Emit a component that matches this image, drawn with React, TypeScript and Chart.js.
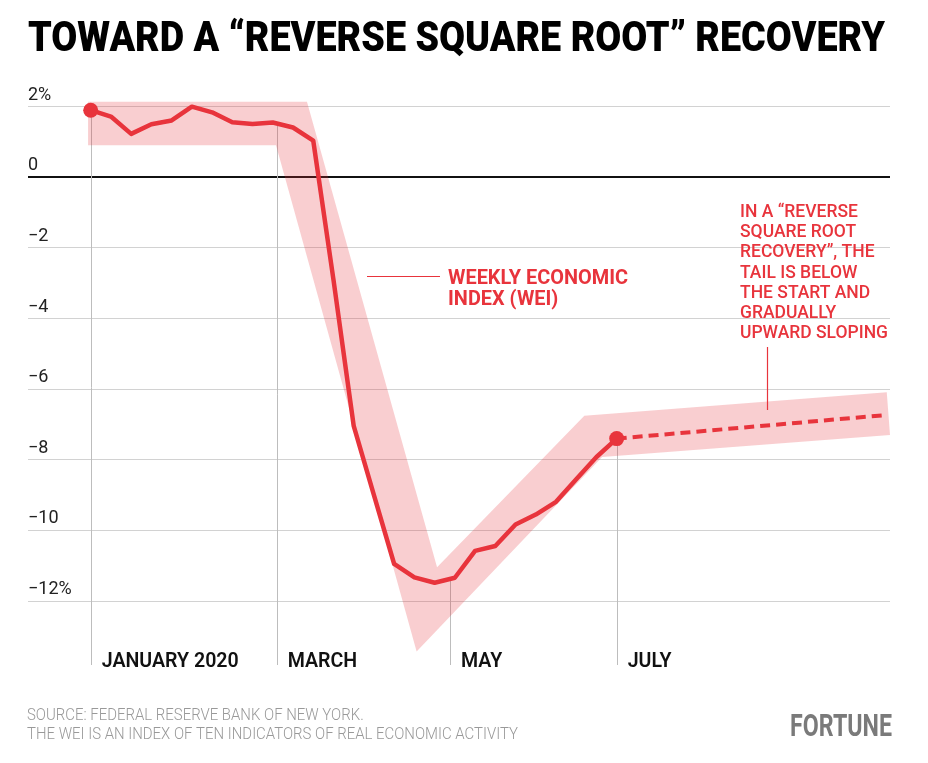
import React, { useEffect, useRef } from 'react';
import { Chart, registerables } from 'chart.js';

Chart.register(...registerables);

// ---- data ----
const weekIndex = [0, 1, 2, 3, 4, 5, 6, 7, 8, 9, 10, 11, 12, 13, 14, 15, 16, 17, 18, 19, 20, 21, 22, 23, 24, 25, 26];
const weiValues = [1.9, 1.72, 1.23, 1.5, 1.61, 2.0, 1.84, 1.56, 1.51, 1.55, 1.41, 1.04, -2.9, -7.04, -9.0, -10.95, -11.33, -11.48, -11.34, -10.58, -10.44, -9.83, -9.55, -9.19, -8.55, -7.92, -7.4];
const projectionX = [26, 39.35];
const projectionY = [-7.4, -6.73];
const bandX = [-0.13, 10.69, 17.12, 24.4, 39.35, 39.51, 25.28, 16.11, 9.16, -0.13];
const bandY = [2.14, 2.14, -11.04, -6.75, -6.09, -7.3, -7.92, -13.43, 0.91, 0.91];
const yTicks = [2, 0, -2, -4, -6, -8, -10, -12];
const yTickLabels = ['2%', '0', '\u22122', '\u22124', '\u22126', '\u22128', '\u221210', '\u221212%'];
const monthLabels = ['JANUARY 2020', 'MARCH', 'MAY', 'JULY'];
const monthPositions = [0, 9.19, 17.76, 26];
const titleText = 'TOWARD A \u201CREVERSE SQUARE ROOT\u201D RECOVERY';
const weiLabel = ['WEEKLY ECONOMIC', 'INDEX (WEI)'];
const noteLines = ['IN A \u201CREVERSE', 'SQUARE ROOT', 'RECOVERY\u201D, THE', 'TAIL IS BELOW', 'THE START AND', 'GRADUALLY', 'UPWARD SLOPING'];
const sourceLines = ['SOURCE: FEDERAL RESERVE BANK OF NEW YORK.', 'THE WEI IS AN INDEX OF TEN INDICATORS OF REAL ECONOMIC ACTIVITY'];
const brandText = 'FORTUNE';

// ---- styles ----
const RED = '#E8343C';
const BAND = 'rgba(232, 52, 60, 0.24)';
const GRID = '#d2d2d2';
const DROP = '#bdbdbd';

function seriesAt(p: number): number {
  for (let i = 0; i < weekIndex.length - 1; i++) {
    if (p >= weekIndex[i] && p <= weekIndex[i + 1]) {
      const t = (p - weekIndex[i]) / (weekIndex[i + 1] - weekIndex[i]);
      return weiValues[i] + t * (weiValues[i + 1] - weiValues[i]);
    }
  }
  return p < weekIndex[0] ? weiValues[0] : weiValues[weiValues.length - 1];
}

function fitScale(ctx: CanvasRenderingContext2D, text: string, font: string, width: number) {
  ctx.font = font;
  return width / ctx.measureText(text).width;
}

function drawText(ctx: CanvasRenderingContext2D, text: string, x: number, y: number, font: string, color: string, sx = 1) {
  ctx.save();
  ctx.font = font;
  ctx.fillStyle = color;
  ctx.textBaseline = 'alphabetic';
  ctx.textAlign = 'left';
  ctx.translate(x, y);
  ctx.scale(sx, 1);
  ctx.fillText(text, 0, 0);
  ctx.restore();
}

const decorPlugin = {
  id: 'decor',
  beforeDatasetsDraw(chart: any) {
    const { ctx, scales, chartArea } = chart;
    const xs = scales.x;
    const ys = scales.y;
    ctx.save();
    ctx.strokeStyle = DROP;
    ctx.lineWidth = 1;
    monthPositions.forEach((p) => {
      const px = Math.round(xs.getPixelForValue(p)) + 0.5;
      const py = ys.getPixelForValue(seriesAt(p));
      ctx.beginPath();
      ctx.moveTo(px, py);
      ctx.lineTo(px, chartArea.bottom);
      ctx.stroke();
    });
    ctx.fillStyle = BAND;
    ctx.beginPath();
    bandX.forEach((bx, i) => {
      const px = xs.getPixelForValue(bx);
      const py = ys.getPixelForValue(bandY[i]);
      if (i === 0) ctx.moveTo(px, py);
      else ctx.lineTo(px, py);
    });
    ctx.closePath();
    ctx.fill();
    ctx.restore();
  },
  afterDraw(chart: any) {
    const { ctx, scales } = chart;
    const xs = scales.x;
    const ys = scales.y;

    const tFont = '900 42px Roboto';
    drawText(ctx, titleText, 28, 51, tFont, '#000', fitScale(ctx, titleText, tFont, 857));

    yTicks.forEach((v, i) => {
      drawText(ctx, yTickLabels[i], 28, ys.getPixelForValue(v) - 7, '400 18px Roboto', '#222');
    });

    const mFont = '600 20px Roboto';
    const mScale = fitScale(ctx, monthLabels[0], mFont, 137);
    monthPositions.forEach((p, i) => {
      drawText(ctx, monthLabels[i], xs.getPixelForValue(p) + 11, 667, mFont, '#111', mScale);
    });

    const wFont = '700 21px Roboto';
    const wScale = fitScale(ctx, weiLabel[0], wFont, 180);
    drawText(ctx, weiLabel[0], 448, 283.5, wFont, RED, wScale);
    drawText(ctx, weiLabel[1], 448, 305, wFont, RED, wScale);
    ctx.save();
    ctx.strokeStyle = RED;
    ctx.lineWidth = 1.2;
    ctx.beginPath();
    ctx.moveTo(367, 276.5);
    ctx.lineTo(440, 276.5);
    ctx.stroke();
    ctx.restore();

    const nFont = '500 19px Roboto';
    const nScale = fitScale(ctx, noteLines[6], nFont, 148);
    noteLines.forEach((line, i) => {
      drawText(ctx, line, 740, 217 + i * 20.2, nFont, RED, nScale);
    });
    ctx.save();
    ctx.strokeStyle = RED;
    ctx.lineWidth = 1.2;
    ctx.beginPath();
    ctx.moveTo(767.5, 347);
    ctx.lineTo(767.5, 410);
    ctx.stroke();
    ctx.restore();

    const fFont = '300 17px Roboto';
    const fScale = fitScale(ctx, sourceLines[1], fFont, 491);
    drawText(ctx, sourceLines[0], 27, 720, fFont, '#999', fScale);
    drawText(ctx, sourceLines[1], 27, 739, fFont, '#999', fScale);

    const bFont = '700 31px Roboto';
    drawText(ctx, brandText, 790, 736, bFont, '#7a7a7a', fitScale(ctx, brandText, bFont, 102));
  },
};

export default function App() {
  const ref = useRef<HTMLCanvasElement | null>(null);
  useEffect(() => {
    if (!ref.current) return;
    const last = weekIndex.length - 1;
    const chart = new Chart(ref.current, {
      type: 'line',
      data: {
        datasets: [
          {
            data: weekIndex.map((x, i) => ({ x, y: weiValues[i] })),
            borderColor: RED,
            borderWidth: 4.5,
            borderJoinStyle: 'round',
            borderCapStyle: 'round',
            tension: 0,
            pointRadius: (c: any) => (c.dataIndex === 0 || c.dataIndex === last ? 7.5 : 0),
            pointBackgroundColor: RED,
            pointBorderWidth: 0,
            fill: false,
            clip: false,
          } as any,
          {
            data: projectionX.map((x, i) => ({ x, y: projectionY[i] })),
            borderColor: RED,
            borderWidth: 4,
            borderDash: [10, 6],
            pointRadius: 0,
            fill: false,
            clip: false,
          } as any,
        ],
      },
      options: {
        responsive: false,
        animation: false,
        events: [],
        layout: { padding: { left: 28, top: 101, right: 38, bottom: 98 } },
        plugins: { legend: { display: false }, tooltip: { enabled: false }, title: { display: false } },
        scales: {
          x: {
            type: 'linear',
            min: -3.1,
            max: 39.51,
            grid: { display: false, drawTicks: false },
            border: { display: false },
            ticks: { display: false },
          },
          y: {
            type: 'linear',
            min: -13.81,
            max: 2.16,
            afterBuildTicks: (scale: any) => {
              scale.ticks = yTicks.map((value) => ({ value }));
            },
            grid: {
              drawTicks: false,
              color: (c: any) => (c.tick && c.tick.value === 0 ? '#111' : GRID),
              lineWidth: (c: any) => (c.tick && c.tick.value === 0 ? 2 : 1),
            },
            border: { display: false },
            ticks: { display: false },
          },
        },
      },
      plugins: [decorPlugin],
    } as any);
    return () => chart.destroy();
  }, []);

  return (
    <div style={{ position: 'absolute', left: 0, top: 0, width: 928, height: 763, background: '#fff' }}>
      <canvas ref={ref} width={928} height={763} style={{ display: 'block', width: 928, height: 763 }} />
    </div>
  );
}
